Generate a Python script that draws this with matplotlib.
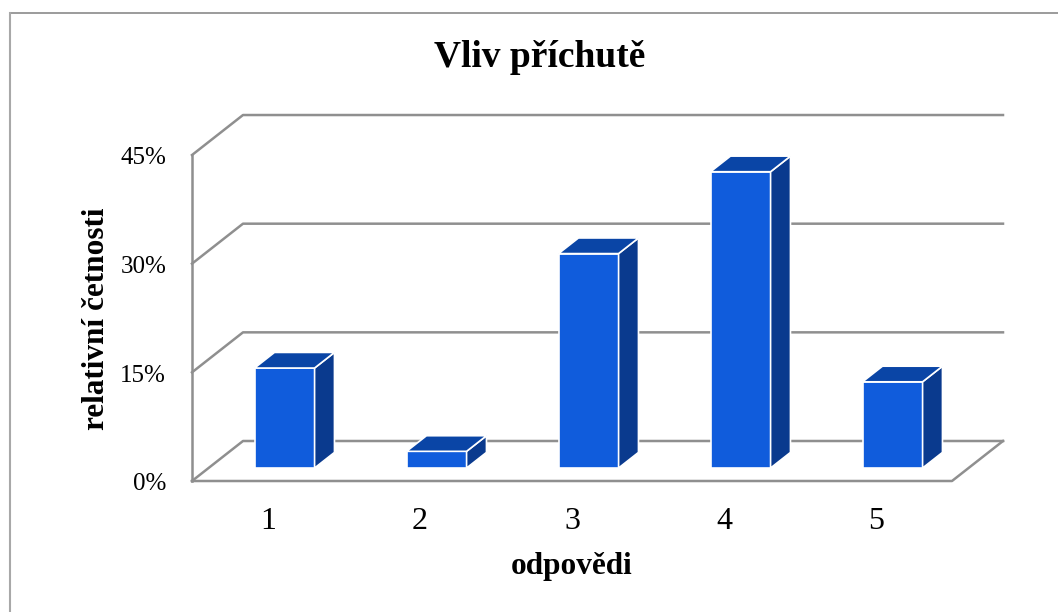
import matplotlib
matplotlib.use("Agg")
import matplotlib.pyplot as plt
from matplotlib.patches import Polygon
from matplotlib.lines import Line2D

# data
categories = ['1', '2', '3', '4', '5']
values = [13.8, 2.3, 29.6, 40.9, 11.9]   # relativní četnosti in %
y_ticks = [0, 15, 30, 45]
y_tick_labels = ['0%', '15%', '30%', '45%']

plt.rcParams['font.family'] = ['Liberation Serif', 'DejaVu Serif']

fig = plt.figure(figsize=(10.58, 6.12), dpi=100)
ax = fig.add_axes([0, 0, 1, 1])
ax.set_xlim(-192 / 152, (1058 - 192) / 152)
ax.set_ylim((481 - 612) / 7.244, 481 / 7.244)
ax.axis('off')

# depth of the fake 3d box (in data units)
DX = 51 / 152
DY = 40 / 7.244
n = len(categories)
grid_color = '#8f8f8f'

# walls and floor
ax.plot([0, 0], [0, y_ticks[-1]], color=grid_color, lw=1.8, zorder=1)
for t in y_ticks:
    ax.plot([0, DX, n + DX], [t, t + DY, t + DY], color=grid_color, lw=1.8, zorder=1)
ax.plot([0, n, n + DX], [0, 0, DY], color=grid_color, lw=1.8, zorder=1)

# bars
front_col = '#105CDC'
top_col = '#0A45A6'
side_col = '#0A3A8E'
w = 60 / 152
f0 = 0.325   # where the bar front sits in the depth
fd = 0.39    # bar depth
ddx, ddy = fd * DX, fd * DY
for i, v in enumerate(values):
    xl = i + 0.5 - w / 2 + f0 * DX
    xr = xl + w
    y0 = f0 * DY
    front = Polygon([(xl, y0), (xr, y0), (xr, y0 + v), (xl, y0 + v)],
                    facecolor=front_col, edgecolor='white', lw=1.2, zorder=3)
    side = Polygon([(xr, y0), (xr + ddx, y0 + ddy), (xr + ddx, y0 + ddy + v), (xr, y0 + v)],
                   facecolor=side_col, edgecolor='white', lw=1.2, zorder=3)
    top = Polygon([(xl, y0 + v), (xr, y0 + v), (xr + ddx, y0 + v + ddy), (xl + ddx, y0 + v + ddy)],
                  facecolor=top_col, edgecolor='white', lw=1.2, zorder=3)
    ax.add_patch(front)
    ax.add_patch(side)
    ax.add_patch(top)

# tick labels
for t, lab in zip(y_ticks, y_tick_labels):
    ax.text(-0.17, t - 1.3, lab, ha='right', va='baseline', fontsize=18)
for i, lab in enumerate(categories):
    ax.text(i + 0.5, -6.63, lab, ha='center', va='baseline', fontsize=23)

# titles
ax.text(2.289, 57.15, 'Vliv příchutě', ha='center', va='baseline', fontsize=27, fontweight='bold')
ax.text(2.5, -12.84, 'odpovědi', ha='center', va='baseline', fontsize=22.5, fontweight='bold')
ax.text(-0.625, 22.36, 'relativní četnosti', ha='center', va='center', rotation=90,
        fontsize=22.5, fontweight='bold')

# chart area border
fig.add_artist(Line2D([10 / 1058, 1], [1 - 13 / 612, 1 - 13 / 612], transform=fig.transFigure,
                      color='#8a8a8a', lw=1.2))
fig.add_artist(Line2D([10 / 1058, 10 / 1058], [0, 1 - 13 / 612], transform=fig.transFigure,
                      color='#a8a8a8', lw=1.5))

fig.savefig('out.png', dpi=100)
